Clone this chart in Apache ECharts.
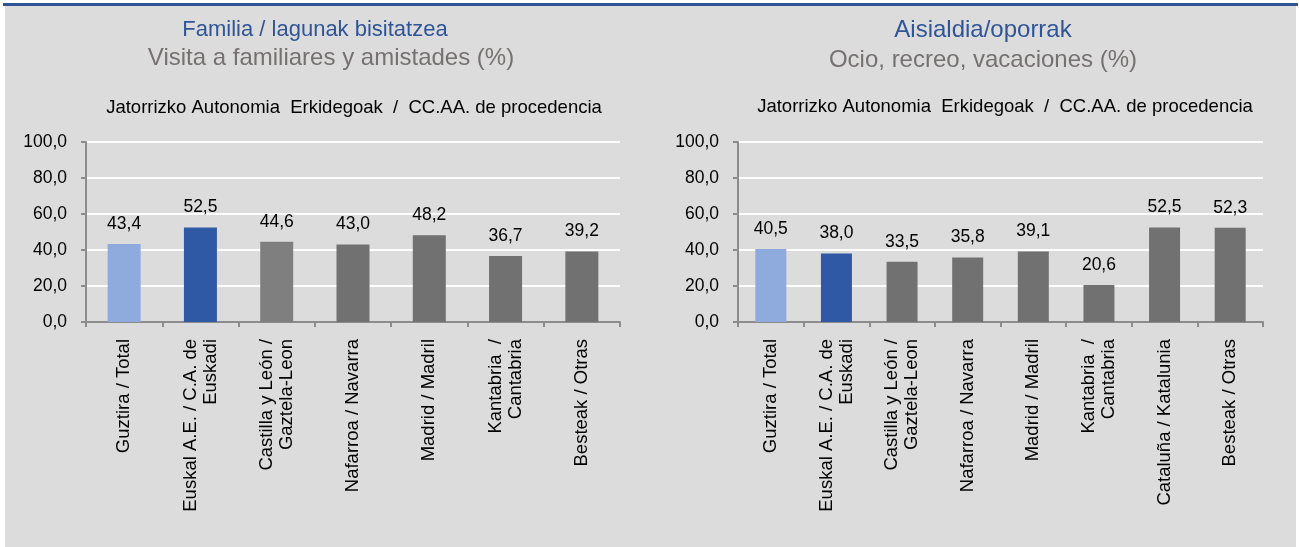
<!DOCTYPE html>
<html>
<head>
<meta charset="utf-8">
<script src="https://cdn.jsdelivr.net/npm/echarts@6/dist/echarts.min.js"></script>
<style>
html,body{margin:0;padding:0;background:#ffffff;}
#c{width:1299px;height:547px;}
</style>
</head>
<body>
<div id="c"></div>
<script>
// ---- data ----
const leftTitle = "Familia / lagunak bisitatzea";
const leftSubtitle = "Visita a familiares y amistades (%)";
const rightTitle = "Aisialdia/oporrak";
const rightSubtitle = "Ocio, recreo, vacaciones (%)";
const axisCaption = "Jatorrizko Autonomia  Erkidegoak  /  CC.AA. de procedencia";

const leftCategories = [
  "Guztira / Total",
  "Euskal A.E. / C.A. de\nEuskadi",
  "Castilla y León /\nGaztela-Leon",
  "Nafarroa / Navarra",
  "Madrid / Madril",
  "Kantabria  /\nCantabria",
  "Besteak / Otras"
];
const leftValues = [43.4, 52.5, 44.6, 43.0, 48.2, 36.7, 39.2];

const rightCategories = [
  "Guztira / Total",
  "Euskal A.E. / C.A. de\nEuskadi",
  "Castilla y León /\nGaztela-Leon",
  "Nafarroa / Navarra",
  "Madrid / Madril",
  "Kantabria  /\nCantabria",
  "Cataluña / Katalunia",
  "Besteak / Otras"
];
const rightValues = [40.5, 38.0, 33.5, 35.8, 39.1, 20.6, 52.5, 52.3];

const yTicks = [0, 20, 40, 60, 80, 100];

// ---- styles ----
const FONT = "'Liberation Sans', Arial, sans-serif";
const leftColors = ["#8faadc", "#2f58a5", "#7f7f7f", "#717171", "#717171", "#717171", "#717171"];
const rightColors = ["#8faadc", "#2f58a5", "#717171", "#717171", "#717171", "#717171", "#717171", "#717171"];
const fmt = v => v.toFixed(1).replace('.', ',');

function yAxis(gi) {
  return {
    gridIndex: gi, type: 'value', min: yTicks[0], max: yTicks[yTicks.length - 1], interval: 20,
    axisLine: {show: true, lineStyle: {color: '#8c8c8c', width: 2}},
    axisTick: {show: true, length: 5, lineStyle: {color: '#8c8c8c', width: 2}},
    splitLine: {show: true, lineStyle: {color: '#ffffff', width: 2}},
    axisLabel: {fontFamily: FONT, fontSize: 17.5, color: '#000', margin: 19, formatter: v => fmt(v)}
  };
}
function xAxis(gi, cats) {
  return {
    gridIndex: gi, type: 'category', data: cats,
    axisLine: {show: true, lineStyle: {color: '#8c8c8c', width: 2}},
    axisTick: {show: true, length: 5, alignWithLabel: false, lineStyle: {color: '#8c8c8c', width: 2}},
    axisLabel: {fontFamily: FONT, fontSize: 18.5, color: '#000', rotate: 90, margin: 17, lineHeight: 20, interval: 0}
  };
}
function barSeries(gi, values, colors, bw) {
  return {
    type: 'bar', xAxisIndex: gi, yAxisIndex: gi, data: values, barWidth: bw,
    itemStyle: {color: p => colors[p.dataIndex]},
    label: {show: true, position: 'top', distance: 11, fontFamily: FONT, fontSize: 17.5, color: '#000', formatter: p => fmt(p.value)}
  };
}

const chart = echarts.init(document.getElementById('c'), null, {renderer: 'canvas'});
chart.setOption({
  animation: false,
  graphic: [
    {type: 'rect', shape: {x: 5, y: 6, width: 1291, height: 541}, style: {fill: '#dcdcdc'}, z: -10},
    {type: 'rect', shape: {x: 3, y: 3, width: 1295, height: 3}, style: {fill: '#2f5597'}, z: -9}
  ],
  title: [
    {text: leftTitle, left: 310, top: 14, textAlign: 'center', textStyle: {fontFamily: FONT, fontSize: 22, fontWeight: 'normal', color: '#2f5597'}},
    {text: leftSubtitle, left: 326, top: 41, textAlign: 'center', textStyle: {fontFamily: FONT, fontSize: 24, fontWeight: 'normal', color: '#767171'}},
    {text: axisCaption, left: 349, top: 93, textAlign: 'center', textStyle: {fontFamily: FONT, fontSize: 18.5, fontWeight: 'normal', color: '#000'}},
    {text: rightTitle, left: 978, top: 13, textAlign: 'center', textStyle: {fontFamily: FONT, fontSize: 24, fontWeight: 'normal', color: '#2f5597'}},
    {text: rightSubtitle, left: 978, top: 43, textAlign: 'center', textStyle: {fontFamily: FONT, fontSize: 24, fontWeight: 'normal', color: '#767171'}},
    {text: axisCaption, left: 1000, top: 92, textAlign: 'center', textStyle: {fontFamily: FONT, fontSize: 18.5, fontWeight: 'normal', color: '#000'}}
  ],
  grid: [
    {left: 86, top: 142, width: 534, height: 180},
    {left: 738, top: 142, width: 525, height: 180}
  ],
  xAxis: [xAxis(0, leftCategories), xAxis(1, rightCategories)],
  yAxis: [yAxis(0), yAxis(1)],
  series: [barSeries(0, leftValues, leftColors, 33), barSeries(1, rightValues, rightColors, 31)]
});
</script>
</body>
</html>
